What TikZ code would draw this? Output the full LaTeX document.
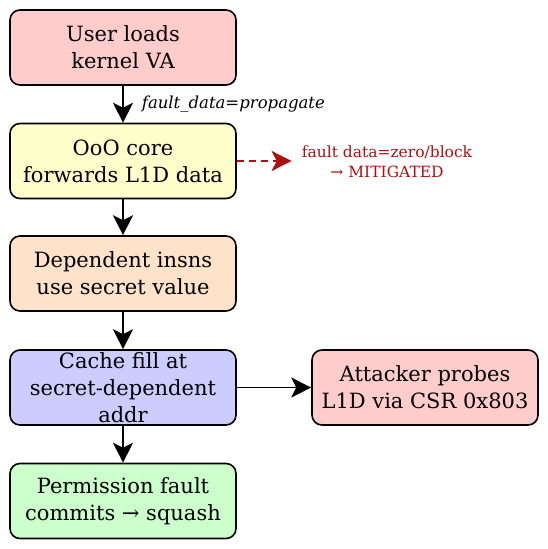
\documentclass[tikz,border=0pt]{standalone}
\usepackage{fontspec}
\setmainfont{DejaVu Serif}
\usetikzlibrary{arrows.meta,positioning}
\definecolor{loadpink}{RGB}{255,204,204}
\definecolor{oooyellow}{RGB}{255,255,204}
\definecolor{usepeach}{RGB}{255,226,202}
\definecolor{cacheblue}{RGB}{204,204,255}
\definecolor{faultgreen}{RGB}{204,255,204}
\definecolor{mitigred}{RGB}{170,17,17}
\tikzset{
  stage/.style={draw=black, line width=1.6pt, rounded corners=10pt,
    minimum width=226pt, minimum height=75pt, inner sep=2pt,
    align=center, font=\fontsize{21}{27}\selectfont},
  flow/.style={line width=1.8pt, -{Stealth[length=20pt,width=20pt,inset=5pt]}},
  mitigation/.style={mitigred, line width=1.8pt, dash pattern=on 7pt off 5pt,
    -{Stealth[length=20pt,width=20pt,inset=5pt]}},
  edgelabel/.style={inner sep=0pt, font=\fontsize{16.5}{20}\selectfont\itshape}
}
\begin{document}
\begin{tikzpicture}[x=1pt,y=-1pt]
  \useasboundingbox (0,0) rectangle (548,549);

  % Pipeline stages
  \node[stage,fill=loadpink] (load) at (123,47.5) {User loads\\kernel VA};
  \node[stage,fill=oooyellow] (fwd) at (123,161) {OoO core\\forwards L1D data};
  \node[stage,fill=usepeach] (use) at (123,273.5) {Dependent insns\\use secret value};
  \node[stage,fill=cacheblue,inner ysep=-3pt] (fill) at (123,387.5)
    {Cache fill at\\secret-dependent\\addr};
  \node[stage,fill=faultgreen] (squash) at (123,501)
    {Permission fault\\commits → squash};
  \node[stage,fill=loadpink] (probe) at (425,387.5)
    {Attacker probes\\L1D via CSR 0x803};

  % Mitigation note
  \node[mitigred,align=center,inner sep=0pt,
    font=\fontsize{15.5}{20}\selectfont] (mitig) at (387,162)
    {fault data=zero/block\\→ MITIGATED};

  % Flow
  \draw[flow] (load) -- (fwd)
    node[midway,right=18pt,edgelabel] {fault\_data=propagate};
  \draw[flow] (fwd) -- (use);
  \draw[flow] (use) -- (fill);
  \draw[flow] (fill) -- (squash);
  \draw[flow] (fill) -- (probe);
  \draw[mitigation] (fwd.east) -- ([xshift=-10pt]mitig.west |- fwd.east);
\end{tikzpicture}
\end{document}
